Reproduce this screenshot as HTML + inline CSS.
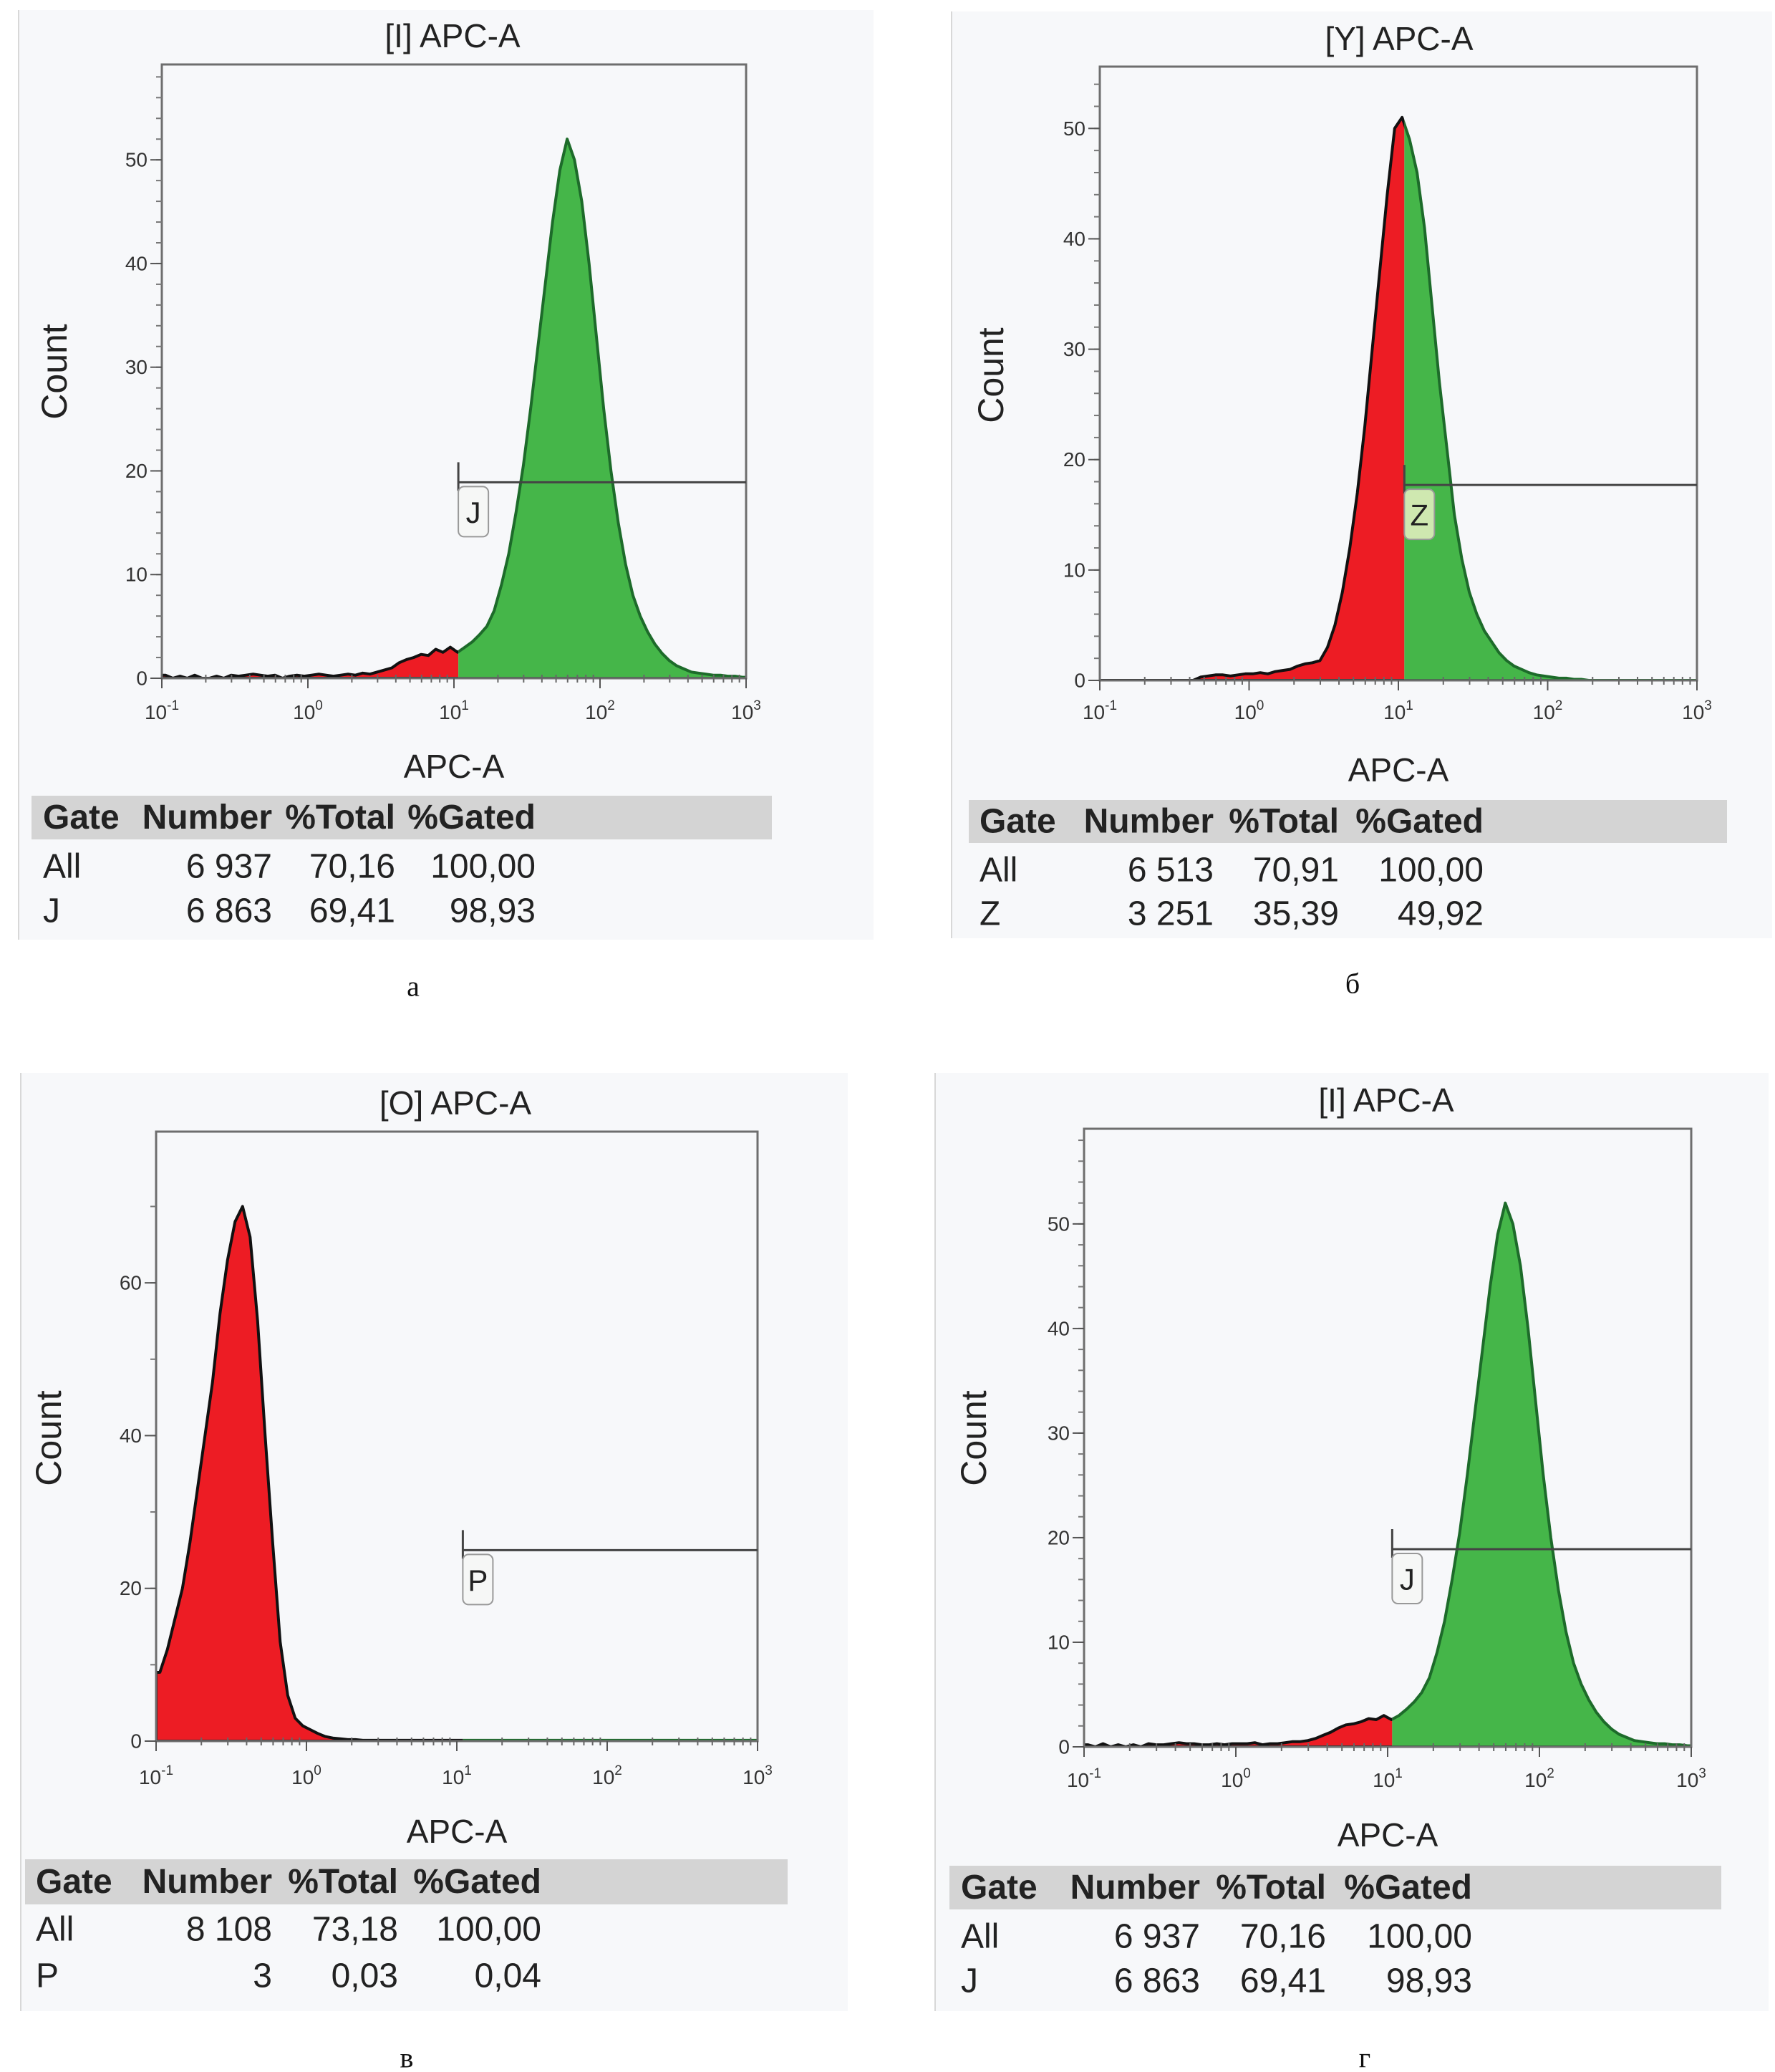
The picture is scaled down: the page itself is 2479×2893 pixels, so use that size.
<!DOCTYPE html>
<html><head><meta charset="utf-8"><style>
html,body{margin:0;padding:0;background:#fff;}
svg{display:block;}
</style></head><body>
<svg id="fig" width="2479" height="2893" viewBox="0 0 2479 2893" xmlns="http://www.w3.org/2000/svg">
<rect x="0" y="0" width="2479" height="2893" fill="#ffffff"/>
</svg>
<script>
// Histogram data: bins of 0.05 decade, log10(APC-A) from -1 to 3 (80 bins)
const xTickExponents = [-1, 0, 1, 2, 3];
const yTicksA = [0, 10, 20, 30, 40, 50];
const yTicksB = [0, 10, 20, 30, 40, 50];
const yTicksC = [0, 20, 40, 60];
const yTicksD = [0, 10, 20, 30, 40, 50];
const valuesA = [0.3,0,0.2,0,0.3,0,0,0.2,0,0.3,0.2,0.3,0.4,0.3,0.2,0.3,0,0.2,0.3,0.2,
  0.3,0.4,0.3,0.2,0.3,0.4,0.3,0.5,0.4,0.6,0.8,1.0,1.5,1.8,2.0,2.3,2.2,2.8,2.5,3.0,
  2.5,3,3.5,4.2,5,6.5,9,12,16,20.5,26,32,38,44,49,52,50,46,40,33,
  26,20,15,11,8,6,4.5,3.3,2.4,1.7,1.2,0.9,0.6,0.5,0.4,0.3,0.3,0.2,0.2,0.1];
const valuesB = [0,0,0,0,0,0,0,0,0,0,0,0,0,0.3,0.4,0.5,0.5,0.4,0.5,0.6,
  0.6,0.7,0.6,0.8,0.9,1.0,1.3,1.5,1.6,1.8,3,5,8,12,17,23,30,37,44,50,
  51,49,46,41,34,27,21,15,11,8,6,4.5,3.5,2.5,1.8,1.3,1.0,0.7,0.5,0.4,
  0.3,0.2,0.2,0.1,0.1,0,0,0,0,0,0,0,0,0,0,0,0,0,0,0];
const valuesC = [9,12,16,20,26,33,40,47,56,63,68,70,66,55,40,26,13,6,3,2,
  1.5,1,0.6,0.4,0.3,0.2,0.2,0.1,0.1,0.1,0.1,0.1,0.1,0.1,0.1,0.1,0.1,0.1,0.1,0.1,
  0.1,0.1,0.1,0.1,0.1,0.1,0.1,0.1,0.1,0.1,0.1,0.1,0.1,0.1,0.1,0.1,0.1,0.1,0.1,0.1,
  0.1,0.1,0.1,0.1,0.1,0.1,0.1,0.1,0.1,0.1,0.1,0.1,0.1,0.1,0.1,0.1,0.1,0.1,0.1,0.1];
const valuesD = [0.2,0,0.3,0,0.2,0,0.2,0,0.3,0.2,0.2,0.3,0.4,0.3,0.3,0.2,0.2,0.3,0.2,0.3,
  0.3,0.3,0.4,0.2,0.3,0.3,0.4,0.5,0.5,0.6,0.8,1.1,1.4,1.8,2.1,2.2,2.4,2.7,2.6,3.0,
  2.6,3,3.6,4.3,5.2,6.6,9,12,16,20.5,26,32,38,44,49,52,50,46,40,33,
  26,20,15,11,8,6,4.5,3.3,2.4,1.7,1.2,0.9,0.6,0.5,0.4,0.3,0.3,0.2,0.2,0.1];
const gateLogA = 1.03, gateCountA = 18.9;
const gateLogB = 1.04, gateCountB = 17.7;
const gateLogC = 1.04, gateCountC = 25.0;
const gateLogD = 1.03, gateCountD = 18.9;
const tableA = [["All","6 937","70,16","100,00"],["J","6 863","69,41","98,93"]];
const tableB = [["All","6 513","70,91","100,00"],["Z","3 251","35,39","49,92"]];
const tableC = [["All","8 108","73,18","100,00"],["P","3","0,03","0,04"]];
const tableD = [["All","6 937","70,16","100,00"],["J","6 863","69,41","98,93"]];

const NS = "http://www.w3.org/2000/svg";
const svg = document.getElementById('fig');
function el(tag, attrs, parent, text){
  const e = document.createElementNS(NS, tag);
  for (const k in attrs) e.setAttribute(k, attrs[k]);
  if (text !== undefined) e.textContent = text;
  (parent || svg).appendChild(e);
  return e;
}
const SANS = '"Liberation Sans", "DejaVu Sans", sans-serif';
const SERIF = '"Liberation Serif", serif';

const layouts = [
 {id:'a', titleText:'[I] APC-A', letter:'а', vals:valuesA, yt:yTicksA, gLog:gateLogA, gC:gateCountA, gName:'J', gFill:'#f6f7f6', table:tableA,
  L:226,R:1042,T:90,B:947,ymax:59.2, bg:[26,14,1220,1312], title:[632,50], count:[76,519], xl:1070, tl:994, band:[44,1078,1111,1172], rows:[1210,1272], cols:[60,380,552,748], let:[577,1377], minorStep:2},
 {id:'b', titleText:'[Y] APC-A', letter:'б', vals:valuesB, yt:yTicksB, gLog:gateLogB, gC:gateCountB, gName:'Z', gFill:'#cfe8b0', table:tableB,
  L:1536,R:2370,T:93,B:950,ymax:55.6, bg:[1329,16,2475,1310], title:[1954,54], count:[1384,524], xl:1075, tl:994, band:[1353,2412,1117,1177], rows:[1215,1276], cols:[1368,1695,1870,2072], let:[1889,1373], minorStep:2},
 {id:'c', titleText:'[O] APC-A', letter:'в', vals:valuesC, yt:yTicksC, gLog:gateLogC, gC:gateCountC, gName:'P', gFill:'#f6f7f6', table:tableC,
  L:218,R:1058,T:1580,B:2431,ymax:79.8, bg:[29,1498,1184,2808], title:[636,1540], count:[68,2008], xl:2557, tl:2481, band:[35,1100,2596,2659], rows:[2694,2759], cols:[50,380,556,756], let:[568,2873], minorStep:10},
 {id:'d', titleText:'[I] APC-A', letter:'г', vals:valuesD, yt:yTicksD, gLog:gateLogD, gC:gateCountD, gName:'J', gFill:'#f6f7f6', table:tableD,
  L:1514,R:2362,T:1576,B:2439,ymax:59.1, bg:[1306,1498,2470,2808], title:[1936,1536], count:[1360,2008], xl:2562, tl:2485, band:[1326,2404,2605,2666], rows:[2704,2766], cols:[1342,1676,1852,2056], let:[1906,2873], minorStep:2}
];

layouts.forEach(p => {
  const g = el('g', {});
  
  
  const xs = lg => p.L + (lg + 1) / 4 * (p.R - p.L);
  const ys = c => p.B - c / p.ymax * (p.B - p.T);

  const bg = el('rect', {x:p.bg[0], y:p.bg[1], width:p.bg[2]-p.bg[0], height:p.bg[3]-p.bg[1], fill:'#f7f8fa'}, g);
  
  
  el('line', {x1:p.bg[0], y1:p.bg[1], x2:p.bg[0], y2:p.bg[3], stroke:'#d8d8d8', 'stroke-width':2}, g);

  const t = el('text', {x:p.title[0], y:p.title[1], 'text-anchor':'middle', 'dominant-baseline':'central', 'font-family':SANS, 'font-size':46, fill:'#222'}, g, p.titleText);
  
  

  const n = p.vals.length;
  let pts = [];
  for (let i = 0; i < n; i++) {
    const lc = -1 + 0.05 * i + 0.025;
    pts.push([xs(lc), ys(Math.min(p.vals[i], p.ymax))]);
  }
  const line = pts.map(q => q[0].toFixed(1) + ',' + q[1].toFixed(1)).join(' ');
  const poly = xs(-1) + ',' + p.B + ' ' + xs(-1) + ',' + pts[0][1].toFixed(1) + ' ' + line + ' ' + xs(3) + ',' + pts[n-1][1].toFixed(1) + ' ' + xs(3) + ',' + p.B;
  const gx = xs(p.gLog);
  const cl = el('clipPath', {id:'cl' + p.id}, g); el('rect', {x:p.L, y:p.T, width:gx-p.L, height:p.B-p.T}, cl);
  const cr = el('clipPath', {id:'cr' + p.id}, g); el('rect', {x:gx, y:p.T, width:p.R-gx, height:p.B-p.T}, cr);
  const red = el('polygon', {points:poly, fill:'#ed1c24', stroke:'#111', 'stroke-width':4, 'stroke-linejoin':'round', 'clip-path':'url(#cl'+p.id+')'}, g);
  
  
  const grn = el('polygon', {points:poly, fill:'#45b649', stroke:'#1d6b2a', 'stroke-width':4, 'stroke-linejoin':'round', 'clip-path':'url(#cr'+p.id+')'}, g);
  
  

  const fr = el('rect', {x:p.L, y:p.T, width:p.R-p.L, height:p.B-p.T, fill:'none', stroke:'#6e6e6e', 'stroke-width':3}, g);
  
  

  for (let v = 0; v <= p.ymax; v += p.minorStep) {
    el('line', {x1:p.L-8, y1:ys(v), x2:p.L, y2:ys(v), stroke:'#777', 'stroke-width':2}, g);
  }
  p.yt.forEach(v => {
    el('line', {x1:p.L-16, y1:ys(v), x2:p.L, y2:ys(v), stroke:'#555', 'stroke-width':2}, g);
    const yl = el('text', {x:p.L-20, y:ys(v), 'text-anchor':'end', 'dominant-baseline':'central', 'font-family':SANS, 'font-size':28, fill:'#333'}, g, String(v));
    
    
  });
  xTickExponents.forEach((e, k) => {
    const x = xs(e);
    el('line', {x1:x, y1:p.B, x2:x, y2:p.B+14, stroke:'#555', 'stroke-width':2}, g);
    if (k < xTickExponents.length - 1) {
      for (let m = 2; m <= 9; m++) {
        const xm = xs(e + Math.log10(m));
        el('line', {x1:xm, y1:p.B-5, x2:xm, y2:p.B+6, stroke:'#666', 'stroke-width':2}, g);
      }
    }
    const xl = el('text', {x:x, y:p.tl, 'text-anchor':'middle', 'dominant-baseline':'central', 'font-family':SANS, 'font-size':28, fill:'#333'}, g);
    
    
    el('tspan', {}, xl, '10');
    el('tspan', {dy:-9, 'font-size':19}, xl, String(e));
  });

  const yt = el('text', {x:p.count[0], y:p.count[1], transform:'rotate(-90 '+p.count[0]+' '+p.count[1]+')', 'text-anchor':'middle', 'dominant-baseline':'central', 'font-family':SANS, 'font-size':50, fill:'#222'}, g, 'Count');
  
  
  const xt = el('text', {x:(p.L+p.R)/2, y:p.xl, 'text-anchor':'middle', 'dominant-baseline':'central', 'font-family':SANS, 'font-size':46, fill:'#222'}, g, 'APC-A');
  
  

  const gy = ys(p.gC);
  const gl = el('line', {x1:gx, y1:gy, x2:p.R, y2:gy, stroke:'#444', 'stroke-width':3}, g);
  
  
  el('line', {x1:gx, y1:gy-28, x2:gx, y2:gy+12, stroke:'#444', 'stroke-width':3}, g);
  const gb = el('rect', {x:gx, y:gy+6, width:42, height:70, rx:8, fill:p.gFill, stroke:'#999', 'stroke-width':2}, g);
  
  
  const gt = el('text', {x:gx+21, y:gy+42, 'text-anchor':'middle', 'dominant-baseline':'central', 'font-family':SANS, 'font-size':42, fill:'#222'}, g, p.gName);
  
  

  const band = el('rect', {x:p.band[0], y:p.band[2], width:p.band[1]-p.band[0], height:p.band[3]-p.band[2], fill:'#d4d4d4'}, g);
  
  
  const hy = (p.band[2]+p.band[3])/2;
  const hdr = [['Gate','start'],['Number','end'],['%Total','end'],['%Gated','end']];
  hdr.forEach((h, k) => {
    const ht = el('text', {x:p.cols[k], y:hy, 'text-anchor':h[1], 'dominant-baseline':'central', 'font-family':SANS, 'font-size':48, 'font-weight':'bold', fill:'#222'}, g, h[0]);
    
    
  });
  p.table.forEach((row, r) => {
    row.forEach((cell, k) => {
      const ct = el('text', {x:p.cols[k], y:p.rows[r], 'text-anchor':k===0?'start':'end', 'dominant-baseline':'central', 'font-family':SANS, 'font-size':48, fill:'#222'}, g, cell);
      
      
    });
  });

  const lt = el('text', {x:p.let[0], y:p.let[1], 'text-anchor':'middle', 'dominant-baseline':'central', 'font-family':SERIF, 'font-size':40, fill:'#111'}, svg, p.letter);
  
  
});
</script>
</body></html>
